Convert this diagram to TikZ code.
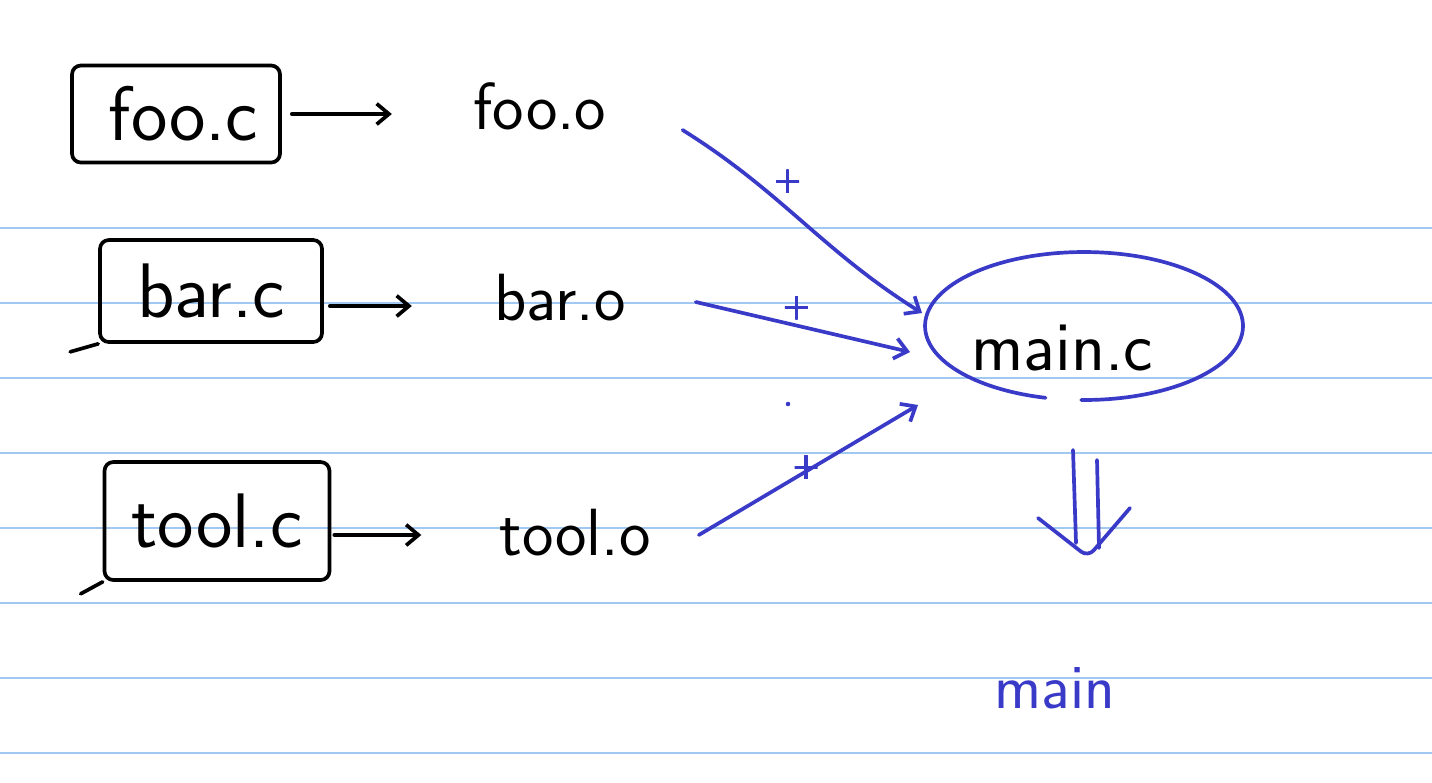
\documentclass[tikz,border=0pt]{standalone}
\usepackage{tikz}
\usetikzlibrary{positioning, arrows.meta}
\usepackage{xcolor}

\definecolor{penblue}{RGB}{58,58,200}
\definecolor{rulecol}{RGB}{160,200,240}

\tikzset{
  inkpen/.style={line width=2.1pt, line cap=round, line join=round},
  bluepen/.style={inkpen, penblue},
  srcbox/.style={draw, inkpen, rounded corners=5pt, inner sep=0pt,
                 font=\sffamily\fontsize{44}{44}\selectfont},
  objname/.style={inner sep=0pt, font=\sffamily\fontsize{38}{38}\selectfont},
  plussign/.style={minimum size=0.46cm, inner sep=0pt,
                   path picture={\draw[-, penblue, line width=2pt]
                     (path picture bounding box.west) -- (path picture bounding box.east)
                     (path picture bounding box.north) -- (path picture bounding box.south);}}
}

\begin{document}
\begin{tikzpicture}[x=0.02cm, y=-0.02cm, >={Straight Barb[angle'=80,length=7pt]}]
    \useasboundingbox (0,0) rectangle (1432,782);
    \fill[white] (0,0) rectangle (1432,782);
    % ruled paper
    \foreach \y in {228,303,...,753}
        \draw[rulecol, line width=1.3pt] (0,\y) -- (1432,\y);

    % sources and objects
    \node[srcbox, minimum width=4.16cm, minimum height=1.94cm] (fooc) at (176,114) {\hspace*{0.3cm}foo.c};
    \node[srcbox, minimum width=4.44cm, minimum height=2.04cm] (barc) at (211,291) {bar.c};
    \node[srcbox, minimum width=4.5cm, minimum height=2.36cm] (toolc) at (217,521) {tool.c};
    \draw[inkpen] (barc.south west) -- ++(-28,8);
    \draw[inkpen] (toolc.south west) -- ++(-22,12);

    \node[objname] (fooo) at (540,106) {foo.o};
    \node[objname] (baro) at (560,298) {bar.o};
    \node[objname] (toolo) at (575,533) {tool.o};

    \coordinate[right=2.2cm of fooc.east] (fooend);
    \coordinate[right=1.76cm of barc.east] (barend);
    \coordinate[right=1.8cm of toolc.east] (toolend);
    \draw[inkpen, ->] ([xshift=0.2cm]fooc.east) -- (fooend);
    \draw[inkpen, ->] ([xshift=0.12cm, yshift=-0.3cm]barc.east) -- ([yshift=-0.3cm]barend);
    \draw[inkpen, ->] ([xshift=0.06cm, yshift=-0.28cm]toolc.east) -- ([yshift=-0.28cm]toolend);

    % linking into main.c
    \node[inner sep=0pt, font=\sffamily\fontsize{40}{40}\selectfont] (mainc) at (1062,348) {main.c};
    \draw[bluepen] ([shift={(22,-22)}]mainc.center) ++(-91:3.18cm and 1.48cm)
        arc[start angle=-91, end angle=256, x radius=3.18cm, y radius=1.48cm];

    \coordinate (infoo) at (922,313);
    \coordinate (inbar) at (910,352);
    \coordinate (intool) at (918,405);
    \draw[bluepen, ->] ([shift={(76,24)}]fooo.east) to[out=-32, in=148]
        node[plussign, pos=0.43, yshift=0.55cm] {} (infoo);
    \draw[bluepen, ->] ([shift={(70,4)}]baro.east) --
        node[plussign, pos=0.47, yshift=0.36cm] {} (inbar);
    \draw[bluepen, ->] ([shift={(48,2)}]toolo.east) --
        node[plussign, pos=0.49, yshift=0.08cm] {} (intool);
    \fill[penblue] (788,404) circle[radius=1.3pt];

    % build result
    \node[inner sep=0pt, text=penblue, font=\sffamily\fontsize{36}{36}\selectfont] (mainbin) at (1055,688) {main};
    \coordinate (down) at (1086,452);
    \draw[bluepen] (down) ++(-13,-2) -- ++(3,93) (down) ++(11,8) -- ++(2,88);
    \draw[bluepen, rounded corners=5pt] (down) ++(-48,66) -- ++(50,39) -- ++(42,-49);
\end{tikzpicture}
\end{document}
